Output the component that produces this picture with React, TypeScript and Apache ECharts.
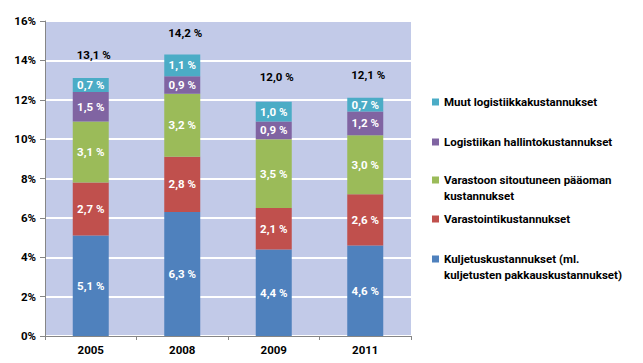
import React, { useEffect, useRef } from "react";
import * as echarts from "echarts";

const categories = ["2005", "2008", "2009", "2011"];
const kuljetus = [5.1, 6.3, 4.4, 4.6];
const varastointi = [2.7, 2.8, 2.1, 2.6];
const varastoon = [3.1, 3.2, 3.5, 3.0];
const hallinto = [1.5, 0.9, 0.9, 1.2];
const muut = [0.7, 1.1, 1.0, 0.7];
const totals = [13.1, 14.2, 12.0, 12.1];
const yTicks = [0, 2, 4, 6, 8, 10, 12, 14, 16];

const names = {
  kuljetus: "Kuljetuskustannukset (ml.\nkuljetusten pakkauskustannukset)",
  varastointi: "Varastointikustannukset",
  varastoon: "Varastoon sitoutuneen pääoman\nkustannukset",
  hallinto: "Logistiikan hallintokustannukset",
  muut: "Muut logistiikkakustannukset",
};

const colors = {
  kuljetus: "#4F81BD",
  varastointi: "#C0504D",
  varastoon: "#9BBB59",
  hallinto: "#8064A2",
  muut: "#4BACC6",
};

const FONT = "Roboto";
const fmt = (v: number) => v.toFixed(1).replace(".", ",") + " %";

export default function App() {
  const ref = useRef<HTMLDivElement>(null);
  useEffect(() => {
    if (!ref.current) return;
    const chart = echarts.init(ref.current, null, { renderer: "svg" });
    const segLabel = {
      show: true,
      position: "inside",
      color: "#ffffff",
      fontFamily: FONT,
      fontWeight: "bold",
      fontSize: 11.5,
      formatter: (p: any) => fmt(p.value),
    };
    const mkBar = (key: keyof typeof names, data: number[]) => ({
      name: names[key],
      type: "bar",
      stack: "total",
      data,
      barWidth: 36,
      itemStyle: { color: colors[key] },
      label: segLabel,
    });
    const squareIcon = "path://M0,0h7v7h-7z";
    const tallIcon = "path://M0,3.5h7v7h-7z M0,0h0.01v0.01h-0.01z M0,30h0.01v0.01h-0.01z";
    const legendBase = {
      orient: "vertical",
      left: 432,
      padding: 0,
      itemWidth: 7,
      itemHeight: 7,
      itemGap: 0,
      icon: squareIcon,
      textStyle: {
        fontFamily: FONT,
        fontWeight: "bold",
        fontSize: 11.5,
        color: "#000",
        lineHeight: 16,
      },
      selectedMode: false,
    };
    const option: any = {
      animation: false,
      grid: {
        left: 45,
        right: 232,
        top: 21,
        bottom: 27,
        show: true,
        backgroundColor: "#C2CAE8",
        borderWidth: 0,
      },
      legend: [
        { ...legendBase, top: 94, data: [names.muut] },
        { ...legendBase, top: 134, data: [names.hallinto] },
        { ...legendBase, top: 172, itemHeight: 30, icon: tallIcon, data: [names.varastoon] },
        { ...legendBase, top: 211, data: [names.varastointi] },
        { ...legendBase, top: 251, itemHeight: 30, icon: tallIcon, data: [names.kuljetus] },
      ],
      xAxis: {
        type: "category",
        data: categories,
        axisLine: { show: true, lineStyle: { color: "#868686" } },
        axisTick: { show: true, length: 4, lineStyle: { color: "#868686" } },
        axisLabel: {
          fontFamily: FONT,
          fontWeight: "bold",
          fontSize: 11.5,
          color: "#000",
          margin: 8,
        },
      },
      yAxis: {
        type: "value",
        min: yTicks[0],
        max: yTicks[yTicks.length - 1],
        interval: 2,
        axisLine: { show: true, lineStyle: { color: "#868686" } },
        axisTick: { show: true, length: 5, lineStyle: { color: "#868686" } },
        splitLine: { show: true, lineStyle: { color: "#ffffff", width: 2 } },
        axisLabel: {
          fontFamily: FONT,
          fontWeight: "bold",
          fontSize: 11.5,
          color: "#000",
          margin: 9,
          formatter: (v: number) => v + "%",
        },
      },
      series: [
        mkBar("kuljetus", kuljetus),
        mkBar("varastointi", varastointi),
        mkBar("varastoon", varastoon),
        mkBar("hallinto", hallinto),
        mkBar("muut", muut),
        {
          name: "Yhteensä",
          type: "scatter",
          data: totals,
          symbolSize: 2,
          itemStyle: { color: "rgba(0,0,0,0)", opacity: 1 },
          label: {
            show: true,
            position: "top",
            distance: 5,
            offset: [3, -11],
            color: "#000",
            fontFamily: FONT,
            fontWeight: "bold",
            fontSize: 11.5,
            formatter: (p: any) => fmt(p.value),
          },
          z: 5,
        },
      ],
    };
    chart.setOption(option);
    return () => chart.dispose();
  }, []);
  return <div ref={ref} style={{ width: 643, height: 363, position: "absolute", left: 0, top: 0 }} />;
}
